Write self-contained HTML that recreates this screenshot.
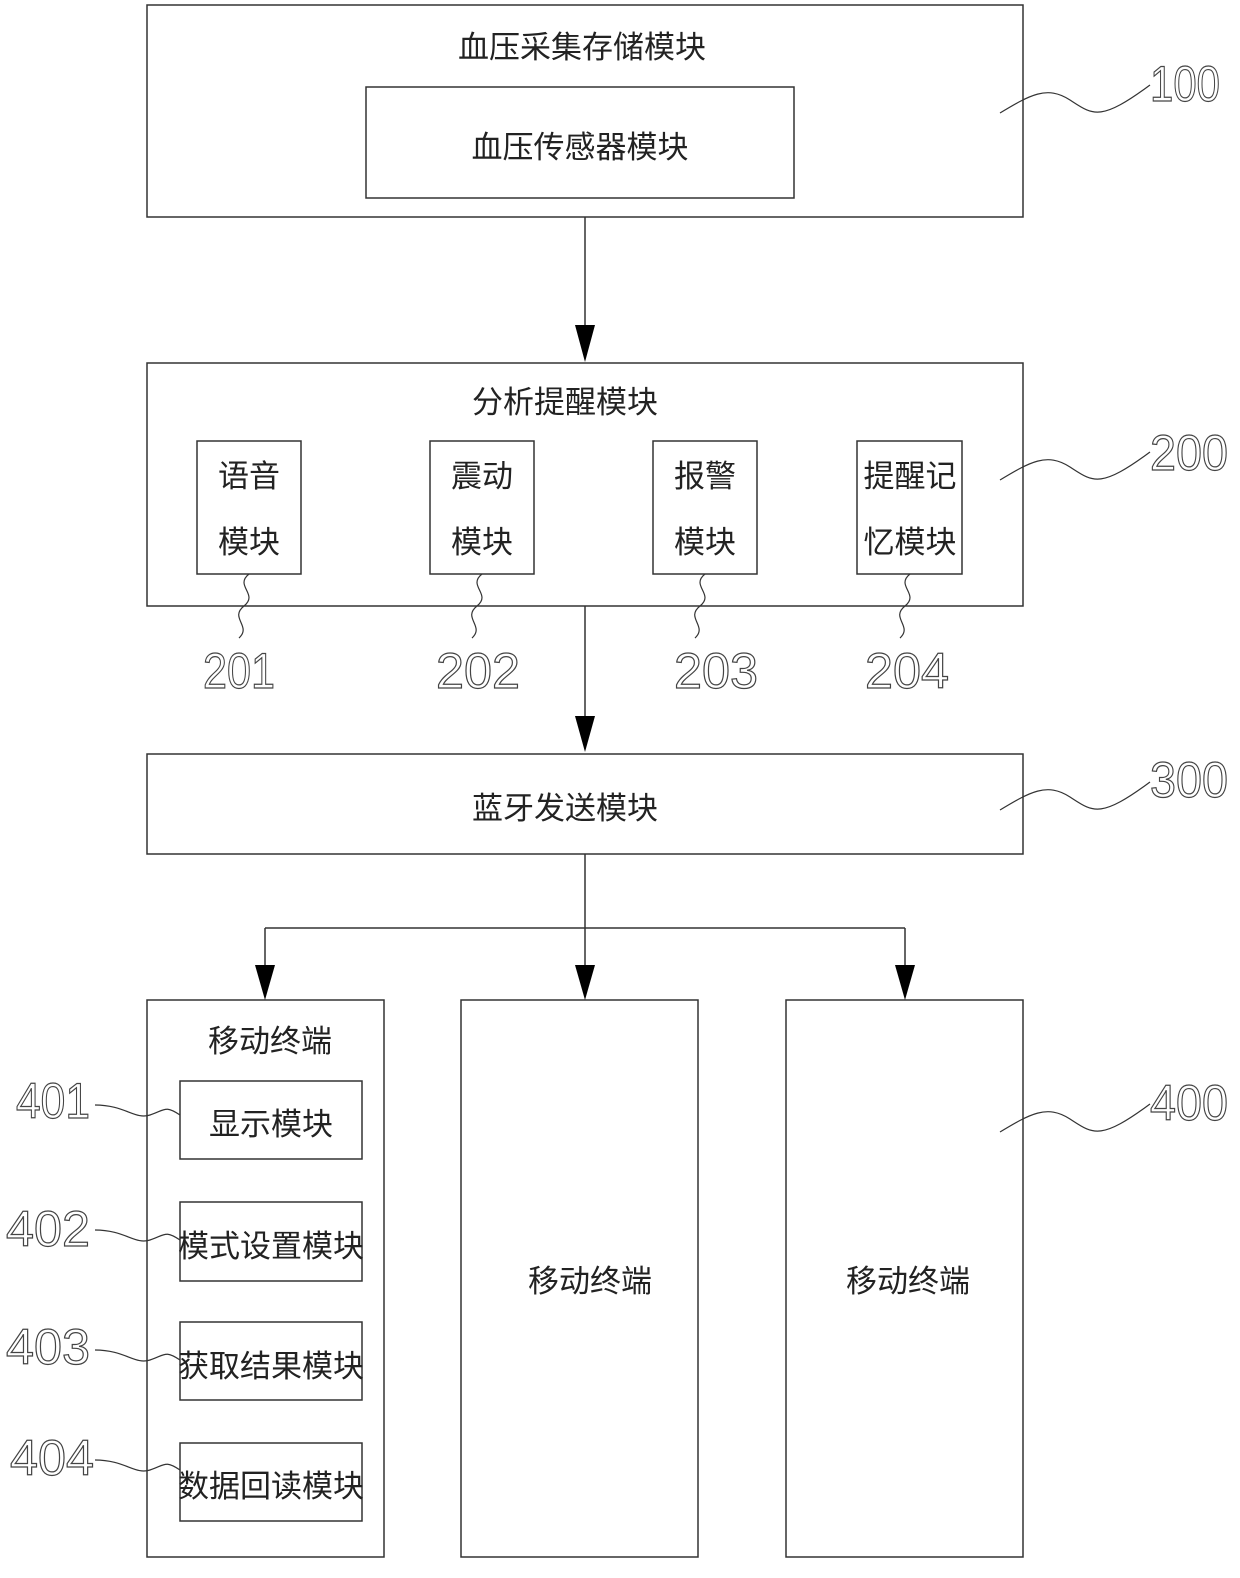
<!DOCTYPE html>
<html><head><meta charset="utf-8"><style>
body{margin:0;background:#fff}
svg text{font-family:"Liberation Sans","Noto Sans CJK SC",sans-serif;fill:#222}
.c{font-size:31px;text-anchor:middle}
.n{font-size:50px;fill:#fff;stroke:#444;stroke-width:1.2;font-family:"Liberation Sans Narrow","Liberation Sans",sans-serif}
</style></head><body>
<svg width="1240" height="1573" viewBox="0 0 1240 1573" xmlns="http://www.w3.org/2000/svg">
<g fill="none" stroke="#333" stroke-width="1.5">
<rect x="147" y="5" width="876" height="212"/>
<rect x="366" y="87" width="428" height="111"/>
<rect x="147" y="363" width="876" height="243"/>
<rect x="197" y="441" width="104" height="133"/>
<rect x="430" y="441" width="104" height="133"/>
<rect x="653" y="441" width="104" height="133"/>
<rect x="857" y="441" width="105" height="133"/>
<rect x="147" y="754" width="876" height="100"/>
<rect x="147" y="1000" width="237" height="557"/>
<rect x="461" y="1000" width="237" height="557"/>
<rect x="786" y="1000" width="237" height="557"/>
<rect x="180" y="1081" width="182" height="78"/>
<rect x="180" y="1202" width="182" height="79"/>
<rect x="180" y="1322" width="182" height="78"/>
<rect x="180" y="1443" width="182" height="78"/>
<path d="M585 217V330M585 606V720M585 854V928M265 928H905M265 928V965M585 928V965M905 928V965"/>
<path stroke-width="1.2" d="M1000 113C1030 95 1047 85 1070 100S1100 122 1150 85"/>
<path stroke-width="1.2" d="M1000 480C1030 462 1047 452 1070 467S1100 489 1150 452"/>
<path stroke-width="1.2" d="M1000 810C1030 792 1047 782 1070 797S1100 819 1150 782"/>
<path stroke-width="1.2" d="M1000 1132C1030 1114 1047 1104 1070 1119S1100 1141 1150 1104"/>
<path stroke-width="1.2" d="M249 574c-15 12 10 20 -5 32s8 20 -5 32"/>
<path stroke-width="1.2" d="M482 574c-15 12 10 20 -5 32s8 20 -5 32"/>
<path stroke-width="1.2" d="M705 574c-15 12 10 20 -5 32s8 20 -5 32"/>
<path stroke-width="1.2" d="M910 574c-15 12 10 20 -5 32s8 20 -5 32"/>
<path stroke-width="1.2" d="M95 1105c30 0 40 15 55 10s15-10 30 0"/>
<path stroke-width="1.2" d="M95 1230c30 0 40 15 55 10s15-10 30 0"/>
<path stroke-width="1.2" d="M95 1350c30 0 40 15 55 10s15-10 30 0"/>
<path stroke-width="1.2" d="M95 1460c30 0 40 15 55 10s15-10 30 0"/>
</g>
<g fill="#000">
<path d="M575 325H595L585 362Z"/>
<path d="M575 716H595L585 752Z"/>
<path d="M255 965H275L265 1000Z"/>
<path d="M575 965H595L585 1000Z"/>
<path d="M895 965H915L905 1000Z"/>
</g>
<text class="c" x="582" y="58">血压采集存储模块</text>
<text class="c" x="580" y="158">血压传感器模块</text>
<text class="c" x="565" y="413">分析提醒模块</text>
<text class="c" x="249" y="487">语音</text><text class="c" x="249" y="553">模块</text>
<text class="c" x="482" y="487">震动</text><text class="c" x="482" y="553">模块</text>
<text class="c" x="705" y="487">报警</text><text class="c" x="705" y="553">模块</text>
<text class="c" x="910" y="487">提醒记</text><text class="c" x="910" y="553">忆模块</text>
<text class="c" x="565" y="819">蓝牙发送模块</text>
<text class="c" x="270" y="1052">移动终端</text>
<text class="c" x="271" y="1135">显示模块</text>
<text class="c" x="271" y="1257">模式设置模块</text>
<text class="c" x="271" y="1377">获取结果模块</text>
<text class="c" x="271" y="1497">数据回读模块</text>
<text class="c" x="590" y="1292">移动终端</text>
<text class="c" x="908" y="1292">移动终端</text>
<text class="n" x="1150" y="101" textLength="70" lengthAdjust="spacingAndGlyphs">100</text>
<text class="n" x="1150" y="470" textLength="78" lengthAdjust="spacingAndGlyphs">200</text>
<text class="n" x="1150" y="797" textLength="78" lengthAdjust="spacingAndGlyphs">300</text>
<text class="n" x="1150" y="1120" textLength="78" lengthAdjust="spacingAndGlyphs">400</text>
<text class="n" x="203" y="688" textLength="72" lengthAdjust="spacingAndGlyphs">201</text>
<text class="n" x="436" y="688" textLength="84" lengthAdjust="spacingAndGlyphs">202</text>
<text class="n" x="674" y="688" textLength="84" lengthAdjust="spacingAndGlyphs">203</text>
<text class="n" x="865" y="688" textLength="84" lengthAdjust="spacingAndGlyphs">204</text>
<text class="n" x="16" y="1118" textLength="74" lengthAdjust="spacingAndGlyphs">401</text>
<text class="n" x="6" y="1246" textLength="84" lengthAdjust="spacingAndGlyphs">402</text>
<text class="n" x="6" y="1364" textLength="84" lengthAdjust="spacingAndGlyphs">403</text>
<text class="n" x="10" y="1475" textLength="84" lengthAdjust="spacingAndGlyphs">404</text>
</svg>
</body></html>
